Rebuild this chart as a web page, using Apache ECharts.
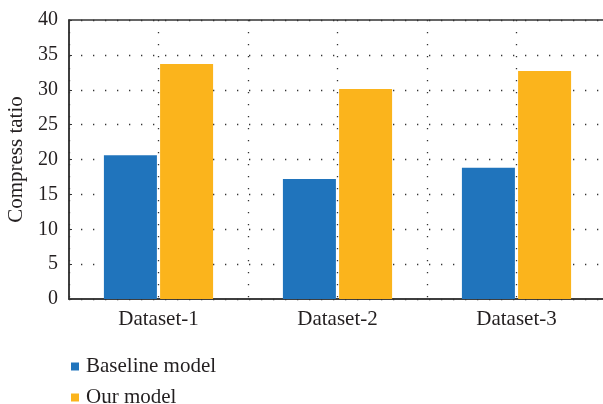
<!DOCTYPE html>
<html>
<head>
<meta charset="utf-8">
<script src="https://cdn.jsdelivr.net/npm/echarts@6/dist/echarts.min.js"></script>
<style>
  html, body { margin: 0; padding: 0; background: #fff; }
  #chart { width: 603px; height: 404px; }
</style>
</head>
<body>
<div id="chart"></div>
<script>
const categories = ['Dataset-1', 'Dataset-2', 'Dataset-3']
const baseline = [20.6, 17.2, 18.8]
const ourModel = [33.7, 30.1, 32.7]

const font = 'Liberation Serif'
const textColor = '#231f20'
const dotted = { color: '#333', width: 1.3, type: [1.3, 10.7] }

const legendItem = (name, top) => ({
  left: 66,
  top: top,
  icon: 'rect',
  itemWidth: 8,
  itemHeight: 8,
  textStyle: { fontFamily: font, fontSize: 21, color: textColor, padding: [0, 0, 0, 2] },
  data: [name]
})

const chart = echarts.init(document.getElementById('chart'))

chart.setOption({
  animation: false,
  textStyle: { fontFamily: font },
  grid: {
    left: 69,
    top: 20,
    width: 537,
    height: 279,
    outerBoundsMode: 'none',
    containLabel: false,
    show: true,
    borderColor: '#333',
    borderWidth: 1.5
  },
  legend: [legendItem('Baseline model', 351), legendItem('Our model', 382)],
  xAxis: [
    {
      type: 'category',
      data: categories,
      axisLine: { lineStyle: { color: '#333', width: 1.5 } },
      axisTick: { inside: true, length: 4, lineStyle: { color: '#333' } },
      axisLabel: { fontFamily: font, fontSize: 21, color: textColor, margin: 10 },
      splitLine: { show: false }
    },
    {
      // hidden helper axis for the dotted vertical grid at centres and boundaries
      type: 'value',
      min: 0,
      max: 3,
      interval: 0.5,
      position: 'bottom',
      axisLine: { show: false },
      axisTick: { show: false },
      axisLabel: { show: false },
      splitLine: { show: true, lineStyle: dotted }
    }
  ],
  yAxis: {
    type: 'value',
    min: 0,
    max: 40,
    interval: 5,
    name: 'Compress tatio',
    nameLocation: 'middle',
    nameGap: 36,
    nameTextStyle: { fontFamily: font, fontSize: 21, color: textColor },
    axisLine: { show: true, lineStyle: { color: '#333', width: 1.5 } },
    axisTick: { show: true, inside: true, length: 3, lineStyle: { color: '#333' } },
    axisLabel: { fontFamily: font, fontSize: 20, color: textColor, margin: 11 },
    splitLine: { show: true, lineStyle: dotted }
  },
  series: [
    {
      name: 'Baseline model',
      type: 'bar',
      data: baseline,
      barWidth: 53,
      barGap: '6%',
      itemStyle: { color: '#2074bc' }
    },
    {
      name: 'Our model',
      type: 'bar',
      data: ourModel,
      barWidth: 53,
      barGap: '6%',
      itemStyle: { color: '#fbb41c' }
    }
  ]
})
</script>
</body>
</html>
